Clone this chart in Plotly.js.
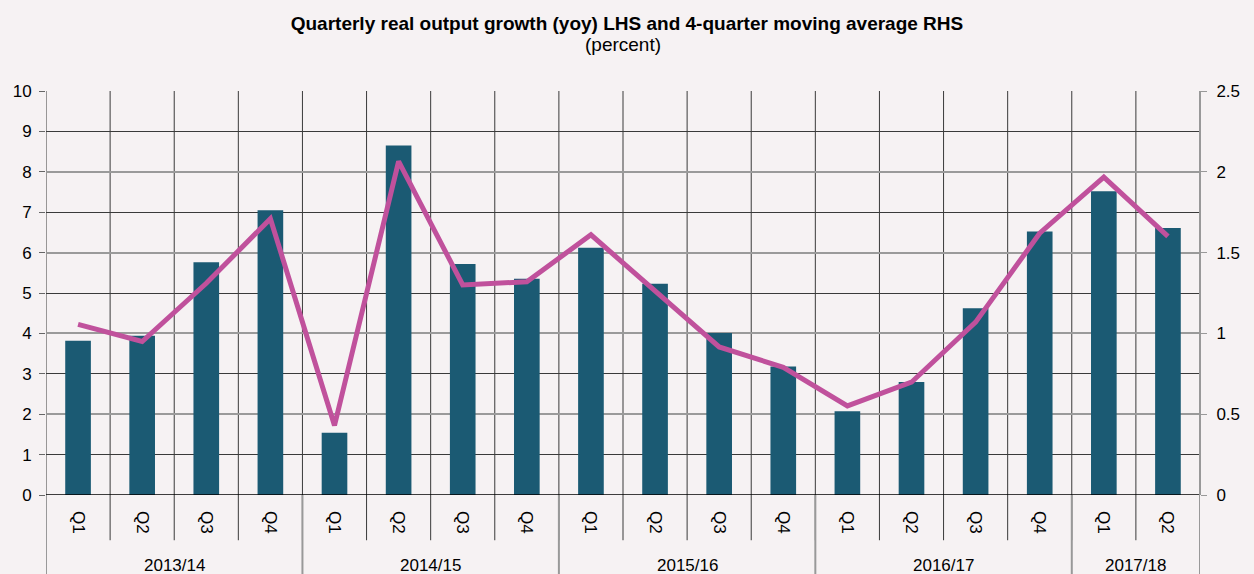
<!DOCTYPE html>
<html>
<head>
<meta charset="utf-8">
<script src="https://cdn.plot.ly/plotly-3.0.1.min.js"></script>
<style>
html,body{margin:0;padding:0;background:#f6f2f3;}
#chart{width:1254px;height:574px;}
</style>
</head>
<body>
<div id="chart"></div>
<script>
// ---- data ----
const quarters = ['Q1','Q2','Q3','Q4','Q1','Q2','Q3','Q4','Q1','Q2','Q3','Q4','Q1','Q2','Q3','Q4','Q1','Q2'];
const years = ['2013/14','2014/15','2015/16','2016/17','2017/18'];
const quartersPerYear = [4,4,4,4,2];
const growth = [3.82,3.94,5.76,7.05,1.54,8.65,5.72,5.35,6.12,5.23,4.01,3.18,2.07,2.80,4.62,6.52,7.52,6.61];
const movingAvg = [1.056,0.95,1.31,1.71,0.43,2.065,1.30,1.32,1.61,1.26,0.916,0.79,0.551,0.698,1.07,1.62,1.967,1.60];

const idx = quarters.map((q,i)=>i);
const bg = '#f6f2f3';
const fam = 'Liberation Sans, Arial, sans-serif';

const traces = [
  {type:'bar', x:idx, y:growth, marker:{color:'#1b5a73'}, hoverinfo:'y', name:'Growth (yoy)'},
  {type:'scatter', mode:'lines', x:idx, y:movingAvg, yaxis:'y2',
   line:{color:'#c0519c', width:5, shape:'linear'}, name:'4-quarter moving average'}
];

const shapes = [];
// vertical gridlines at category boundaries (within plot)
for (let i=0;i<=quarters.length;i++){
  shapes.push({type:'line', xref:'x', yref:'paper', x0:i-0.5, x1:i-0.5, y0:0, y1:1,
    line:{color:'#3a3a3a', width:1}, layer:'below'});
}
// quarter dividers below axis
for (let i=1;i<quarters.length;i++){
  shapes.push({type:'line', xref:'x', yref:'paper', x0:i-0.5, x1:i-0.5, y0:0, y1:-0.112,
    line:{color:'#3a3a3a', width:1}, layer:'above'});
}
// year labels and dividers below axis
const annotations = [];
let start = 0;
const bounds = [0];
quartersPerYear.forEach((n,k)=>{
  annotations.push({xref:'x', yref:'paper', x:start + (n-1)/2, y:-0.146, yanchor:'top',
    text:years[k], showarrow:false, font:{family:fam, size:17, color:'#000'}});
  start += n;
  bounds.push(start);
});
bounds.forEach(b=>{
  shapes.push({type:'line', xref:'x', yref:'paper', x0:b-0.5, x1:b-0.5, y0:0, y1:-0.2,
    line:{color:'#999999', width:2}, layer:'above'});
});
// x axis line at zero
shapes.push({type:'line', xref:'paper', yref:'y', x0:0, x1:1, y0:0, y1:0, line:{color:'#000', width:1.5}, layer:'above'});
// right axis line
shapes.push({type:'line', xref:'paper', yref:'paper', x0:1, x1:1, y0:0, y1:1, line:{color:'#999999', width:2}, layer:'above'});

annotations.push({xref:'paper', yref:'paper', x:0.5, y:1.116, yanchor:'middle', showarrow:false,
  text:'(percent)', font:{family:fam, size:19, color:'#000'}});

const layout = {
  width:1254, height:574,
  paper_bgcolor:bg, plot_bgcolor:bg,
  margin:{l:46, r:54, t:91, b:79},
  showlegend:false,
  bargap:0.6,
  title:{text:'<b>Quarterly real output growth (yoy) LHS and 4-quarter moving average RHS</b>',
    x:0.5, xanchor:'center', y:0.96, yanchor:'middle',
    font:{family:fam, size:19, color:'#000'}},
  font:{family:fam, size:17, color:'#000'},
  xaxis:{range:[-0.5, quarters.length-0.5], tickmode:'array', tickvals:idx, ticktext:quarters,
    tickangle:90, showgrid:false, zeroline:false, showline:false, ticks:'', ticklabelstandoff:15,
    tickfont:{size:17}, fixedrange:true},
  yaxis:{range:[0,10], dtick:1, showgrid:true, gridcolor:'#3a3a3a', gridwidth:1,
    zeroline:false, showline:false, ticks:'outside', ticklen:6, tickcolor:'#666', tickwidth:1,
    ticklabelstandoff:4, tickfont:{size:17}},
  yaxis2:{range:[0,2.5], dtick:0.5, overlaying:'y', side:'right', showgrid:true, gridcolor:'#9a9a9a', gridwidth:2,
    zeroline:false, showline:false, ticks:'outside', ticklen:6, tickcolor:'#999', tickwidth:1, ticklabelstandoff:6,
    tickfont:{size:17}},
  shapes:shapes,
  annotations:annotations
};

Plotly.newPlot('chart', traces, layout, {displayModeBar:false, staticPlot:true});
</script>
</body>
</html>
